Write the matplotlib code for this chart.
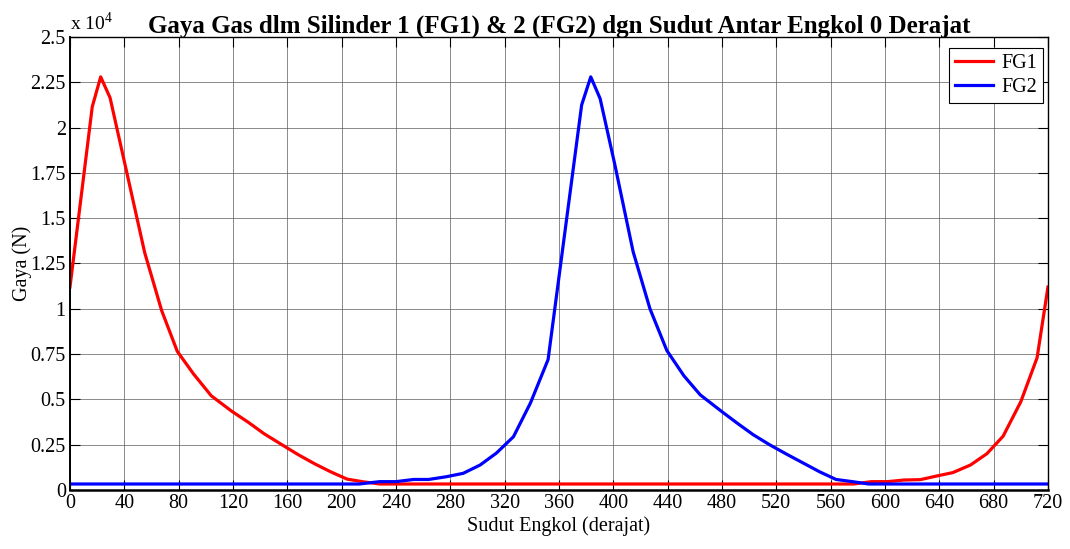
import matplotlib
matplotlib.use("Agg")
import matplotlib.pyplot as plt
from matplotlib.ticker import FuncFormatter

plt.rcParams['font.family'] = ['Liberation Serif', 'DejaVu Serif']
plt.rcParams['mathtext.fontset'] = 'custom'
plt.rcParams['mathtext.rm'] = 'Liberation Serif'

# sudut engkol (derajat) dan gaya gas (N)
sudut_fg1 = [0, 16.4, 22.6, 29.5, 41, 55, 67.5, 79, 91, 104, 119, 131, 143, 156,
             168, 180, 192, 204, 216, 228, 240, 300, 360, 420, 480, 540, 577,
             590, 602, 614, 626, 638, 650, 663, 675, 687, 700, 712, 720]
fg1 = [11200, 21150, 22800, 21650, 17800, 13100, 9900, 7650, 6400, 5200, 4350,
       3750, 3100, 2500, 1950, 1450, 1000, 600, 450, 330, 330, 330, 330, 330,
       330, 330, 330, 460, 460, 550, 570, 770, 960, 1380, 2000, 2970, 4870,
       7300, 11200]

sudut_fg2 = [0, 60, 120, 180, 213, 228, 240, 253, 264, 277, 289.5, 302, 314,
             326.5, 339, 352, 376.7, 383.4, 390.3, 401, 414.6, 427, 439.4, 452,
             464, 480, 491, 503, 515, 527, 540, 552, 564, 576, 588, 600, 660, 720]
fg2 = [330, 330, 330, 330, 330, 460, 460, 580, 580, 730, 920, 1380, 2040, 2940,
       4800, 7200, 21250, 22800, 21600, 18000, 13150, 10000, 7700, 6300, 5250,
       4320, 3700, 3050, 2500, 2000, 1480, 1000, 580, 460, 330, 330, 330, 330]

xticks = list(range(0, 721, 40))
yticks = [i * 2500 for i in range(11)]

fig = plt.figure(figsize=(10.7, 5.49), dpi=100)
ax = fig.add_axes([0.0654, 0.1075, 0.914, 0.8251])

ax.plot(sudut_fg1, fg1, color=(1, 0, 0), lw=2.3, label='FG1')
ax.plot(sudut_fg2, fg2, color=(0, 0, 1), lw=2.3, label='FG2')

ax.set_xlim(0, 720)
ax.set_ylim(0, 25000)
ax.set_xticks(xticks)
ax.set_yticks(yticks)
ax.yaxis.set_major_formatter(FuncFormatter(lambda v, p: '%g' % (v / 1e4)))
ax.tick_params(direction='in', top=True, right=True, length=7, width=0.8,
               labelsize=14.5, pad=3)
ax.grid(True, color='#555555', lw=0.6, alpha=0.8)
for s in ax.spines.values():
    s.set_linewidth(1.0)
ax.spines['bottom'].set_linewidth(1.8)
ax.spines['left'].set_linewidth(1.4)

ax.text(0.0, 1.006, r'x 10$^{4}$', transform=ax.transAxes, fontsize=14,
        ha='left', va='bottom')

ax.set_title('Gaya Gas dlm Silinder 1 (FG1) & 2 (FG2) dgn Sudut Antar Engkol 0 Derajat',
             fontsize=18, fontweight='bold', pad=3)
ax.set_xlabel('Sudut Engkol (derajat)', fontsize=14.5, labelpad=2)
ax.set_ylabel('Gaya (N)', fontsize=14.5, labelpad=-1)

leg = ax.legend(loc='upper right', bbox_to_anchor=(0.995, 0.976), fontsize=14.5,
                fancybox=False, framealpha=1, edgecolor='black',
                handlelength=1.9, borderpad=0.3, labelspacing=0.25,
                handletextpad=0.4, borderaxespad=0)
leg.get_frame().set_linewidth(0.8)

fig.savefig('out.png', dpi=100)
